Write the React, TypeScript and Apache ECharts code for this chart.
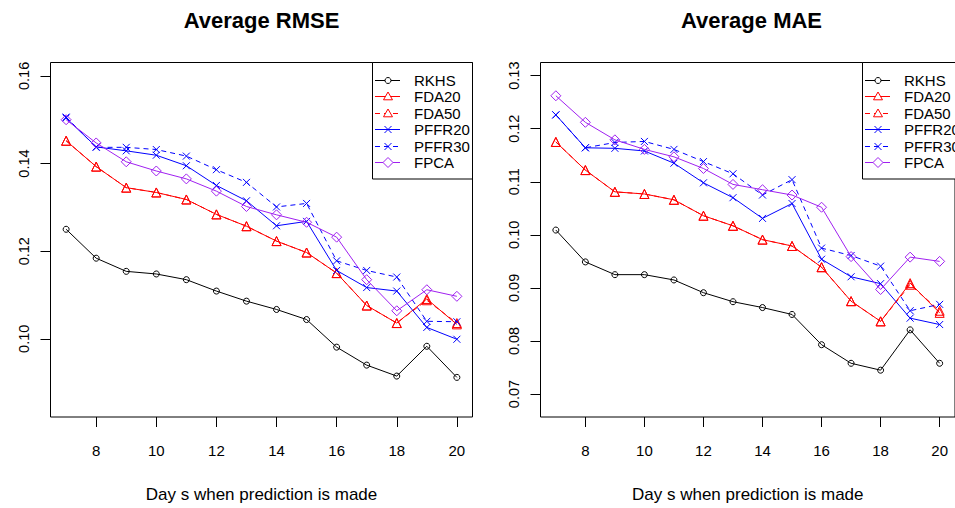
import React, { useEffect, useRef } from "react";
import * as echarts from "echarts";

const DAYS = [7, 8, 9, 10, 11, 12, 13, 14, 15, 16, 17, 18, 19, 20];
const NAMES = ["RKHS", "FDA20", "FDA50", "PFFR20", "PFFR30", "FPCA"];

const RMSE_RKHS = [0.125, 0.1184, 0.1154, 0.1148, 0.1135, 0.1109, 0.1086, 0.1067, 0.1044, 0.0981, 0.094, 0.0915, 0.0983, 0.0912];
const RMSE_FDA20 = [0.1452, 0.1393, 0.1345, 0.1334, 0.1318, 0.1284, 0.1257, 0.1223, 0.1197, 0.115, 0.1076, 0.1036, 0.1091, 0.1033];
const RMSE_FDA50 = [0.1452, 0.1393, 0.1345, 0.1334, 0.1318, 0.1284, 0.1257, 0.1223, 0.1197, 0.115, 0.1076, 0.1036, 0.1088, 0.1036];
const RMSE_PFFR20 = [0.1504, 0.1438, 0.1429, 0.1419, 0.1395, 0.135, 0.1315, 0.1258, 0.1268, 0.1156, 0.1117, 0.1109, 0.1026, 0.0999];
const RMSE_PFFR30 = [0.1506, 0.1437, 0.1437, 0.1432, 0.1417, 0.1386, 0.1357, 0.1301, 0.1309, 0.1178, 0.1156, 0.1141, 0.104, 0.1039];
const RMSE_FPCA = [0.15, 0.1447, 0.1404, 0.1383, 0.1365, 0.1337, 0.1302, 0.1283, 0.1266, 0.1232, 0.1135, 0.1064, 0.1112, 0.1097];

const MAE_RKHS = [0.1009, 0.0949, 0.0925, 0.0925, 0.0915, 0.0891, 0.0874, 0.0863, 0.085, 0.0793, 0.0758, 0.0745, 0.0821, 0.0758];
const MAE_FDA20 = [0.1175, 0.1122, 0.1081, 0.1077, 0.1066, 0.1036, 0.1017, 0.0991, 0.0979, 0.0939, 0.0875, 0.0837, 0.0909, 0.0853];
const MAE_FDA50 = [0.1175, 0.1122, 0.1081, 0.1077, 0.1066, 0.1036, 0.1017, 0.0991, 0.0979, 0.0939, 0.0875, 0.0837, 0.0906, 0.0857];
const MAE_PFFR20 = [0.1226, 0.1164, 0.1163, 0.1158, 0.1135, 0.1098, 0.107, 0.1031, 0.1059, 0.0954, 0.0921, 0.0908, 0.0843, 0.0831];
const MAE_PFFR30 = [0.1226, 0.1164, 0.1174, 0.1176, 0.1161, 0.1138, 0.1115, 0.1075, 0.1104, 0.0975, 0.0961, 0.0941, 0.0857, 0.0869];
const MAE_FPCA = [0.1262, 0.1212, 0.1179, 0.1161, 0.1147, 0.1125, 0.1095, 0.1085, 0.1075, 0.1052, 0.0959, 0.0897, 0.0958, 0.095];

const X_TICKS = [8, 10, 12, 14, 16, 18, 20];
const RMSE_TICKS = [0.1, 0.12, 0.14, 0.16];
const MAE_TICKS = [0.07, 0.08, 0.09, 0.1, 0.11, 0.12, 0.13];

const TITLES = ["Average RMSE", "Average MAE"];
const X_TITLE = "Day s when prediction is made";

const FONT = '"Liberation Sans", Arial, Helvetica, sans-serif';

const X_PATH = "path://M0,0L10,10M10,0L0,10";
const STYLES: Record<string, any> = {
  RKHS: { color: "#000000", symbol: "circle", size: 6, dash: "solid", mark: "circle" },
  FDA20: { color: "#FF0000", symbol: "triangle", size: 9, dash: "solid", mark: "triangle" },
  FDA50: { color: "#FF0000", symbol: "triangle", size: 9, dash: [5, 4], mark: "triangle" },
  PFFR20: { color: "#0000FF", symbol: X_PATH, size: 7, dash: "solid", mark: "x" },
  PFFR30: { color: "#0000FF", symbol: X_PATH, size: 7, dash: [5, 4], mark: "x" },
  FPCA: { color: "#A020F0", symbol: "diamond", size: 10, dash: "solid", mark: "diamond" },
};

const GRIDS = [
  { left: 50.5, top: 62.5, width: 422, height: 360 },
  { left: 540.5, top: 62.5, width: 422, height: 360 },
];

function legendGraphics(left: number): any[] {
  const els: any[] = [];
  els.push({
    type: "rect",
    silent: true,
    z: 100,
    shape: { x: left, y: 62.5, width: 100, height: 116.5 },
    style: { fill: "#fff", stroke: "#000", lineWidth: 1 },
  });
  NAMES.forEach((n, i) => {
    const st = STYLES[n];
    const cy = Math.round(79.5 + i * 16.55) + 0.5;
    const x0 = left + 2.5;
    const x1 = left + 27.5;
    const cx = left + 15.5;
    const stroke = { stroke: st.color, lineWidth: 1, fill: "none" };
    els.push({
      type: "line",
      silent: true,
      z: 101,
      shape: { x1: x0, y1: cy, x2: x1, y2: cy },
      style: { stroke: st.color, lineWidth: 1, lineDash: st.dash === "solid" ? null : st.dash },
    });
    if (st.mark === "circle") {
      els.push({ type: "circle", silent: true, z: 102, shape: { cx, cy, r: 3 }, style: { ...stroke, fill: "#fff" } });
    } else if (st.mark === "triangle") {
      els.push({
        type: "polygon",
        silent: true,
        z: 102,
        shape: { points: [[cx, cy - 4.5], [cx - 4.5, cy + 3.3], [cx + 4.5, cy + 3.3]] },
        style: { ...stroke, fill: "#fff" },
      });
    } else if (st.mark === "x") {
      els.push({ type: "line", silent: true, z: 102, shape: { x1: cx - 3.5, y1: cy - 3.5, x2: cx + 3.5, y2: cy + 3.5 }, style: stroke });
      els.push({ type: "line", silent: true, z: 102, shape: { x1: cx - 3.5, y1: cy + 3.5, x2: cx + 3.5, y2: cy - 3.5 }, style: stroke });
    } else {
      els.push({
        type: "polygon",
        silent: true,
        z: 102,
        shape: { points: [[cx, cy - 5], [cx + 5, cy], [cx, cy + 5], [cx - 5, cy]] },
        style: { ...stroke, fill: "#fff" },
      });
    }
    els.push({
      type: "text",
      silent: true,
      z: 102,
      x: left + 41.5,
      y: cy,
      style: {
        text: n,
        font: `15px ${FONT}`,
        fill: "#000",
        textAlign: "left",
        textVerticalAlign: "middle",
      },
    });
  });
  return els;
}

export default function App() {
  const ref = useRef<HTMLDivElement>(null);
  useEffect(() => {
    if (!ref.current) return;
    const chart = echarts.init(ref.current, null, { renderer: "svg" });
    const rmse = [RMSE_RKHS, RMSE_FDA20, RMSE_FDA50, RMSE_PFFR20, RMSE_PFFR30, RMSE_FPCA];
    const mae = [MAE_RKHS, MAE_FDA20, MAE_FDA50, MAE_PFFR20, MAE_PFFR30, MAE_FPCA];

    const series: any[] = [];
    [rmse, mae].forEach((set, gi) => {
      set.forEach((vals, si) => {
        const name = NAMES[si];
        const st = STYLES[name];
        series.push({
          type: "line",
          name,
          xAxisIndex: gi,
          yAxisIndex: gi,
          data: DAYS.map((d, i) => [d, vals[i]]),
          symbol: st.symbol,
          symbolSize: st.size,
          showSymbol: true,
          lineStyle: { color: st.color, width: 1, type: st.dash },
          itemStyle: { color: "none", borderColor: st.color, borderWidth: 1 },
          emphasis: { disabled: true },
          z: 2 + si,
        });
      });
    });

    const xAxisBase = (gi: number) => ({
      type: "value",
      gridIndex: gi,
      min: 6.48,
      max: 20.52,
      splitLine: { show: false },
      axisLine: { show: false },
      axisTick: {
        show: true,
        length: 10,
        inside: false,
        customValues: X_TICKS,
        lineStyle: { color: "#000", width: 1 },
      },
      axisLabel: {
        customValues: X_TICKS,
        margin: 26,
        color: "#000",
        fontSize: 15,
        fontFamily: FONT,
      },
      name: X_TITLE,
      nameLocation: "middle",
      nameGap: 69,
      nameTextStyle: { color: "#000", fontSize: 17, fontFamily: FONT },
    });

    const yAxisBase = (gi: number, min: number, max: number, ticks: number[]) => ({
      type: "value",
      gridIndex: gi,
      min,
      max,
      splitLine: { show: false },
      axisLine: { show: false },
      axisTick: {
        show: true,
        length: 10,
        inside: false,
        customValues: ticks,
        lineStyle: { color: "#000", width: 1 },
      },
      axisLabel: {
        customValues: ticks,
        rotate: 90,
        margin: 19,
        color: "#000",
        fontSize: 14.5,
        fontFamily: FONT,
        formatter: (v: number) => v.toFixed(2),
      },
    });

    chart.setOption({
      animation: false,
      backgroundColor: "#fff",
      grid: GRIDS.map((g) => ({
        ...g,
        show: true,
        borderColor: "#000",
        borderWidth: 1,
        backgroundColor: "transparent",
        containLabel: false,
      })),
      xAxis: [xAxisBase(0), xAxisBase(1)],
      yAxis: [
        yAxisBase(0, 0.08216, 0.16306, RMSE_TICKS),
        yAxisBase(1, 0.06568, 0.13247, MAE_TICKS),
      ],
      graphic: [
        {
          type: "text",
          x: GRIDS[0].left + GRIDS[0].width / 2,
          y: 20,
          style: {
            text: TITLES[0],
            font: `bold 22px ${FONT}`,
            fill: "#000",
            textAlign: "center",
            textVerticalAlign: "middle",
          },
        },
        {
          type: "text",
          x: GRIDS[1].left + GRIDS[1].width / 2,
          y: 20,
          style: {
            text: TITLES[1],
            font: `bold 22px ${FONT}`,
            fill: "#000",
            textAlign: "center",
            textVerticalAlign: "middle",
          },
        },
        ...legendGraphics(372.5),
        ...legendGraphics(862.5),
      ],
      series,
    });
    return () => chart.dispose();
  }, []);

  return (
    <div
      ref={ref}
      style={{ position: "absolute", left: 0, top: 0, width: 955, height: 508, background: "#fff" }}
    />
  );
}
